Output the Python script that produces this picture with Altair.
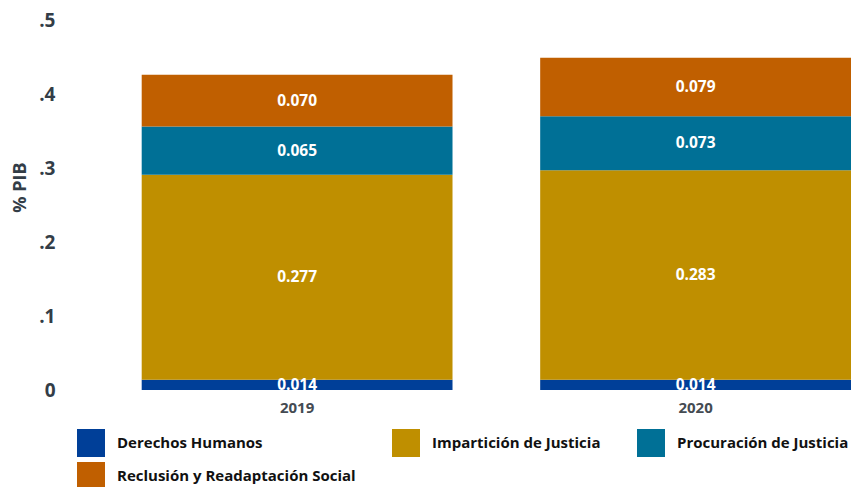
import altair as alt
import pandas as pd

years = ["2019", "2020"]
categories = ["Derechos Humanos", "Impartición de Justicia", "Procuración de Justicia", "Reclusión y Readaptación Social"]
values_2019 = [0.014, 0.277, 0.065, 0.070]
values_2020 = [0.014, 0.283, 0.073, 0.079]
colors = ["#003f98", "#bf8f00", "#007096", "#c05f00"]

rows = []
for y, vals in zip(years, [values_2019, values_2020]):
    for i, (c, v) in enumerate(zip(categories, vals)):
        rows.append({"year": y, "cat": c, "val": v, "order": i})
df = pd.DataFrame(rows)

base = alt.Chart(df).transform_stack(
    stack="val", groupby=["year"], as_=["y0", "y1"], sort=[alt.SortField("order", "ascending")]
).transform_calculate(mid="(datum.y0 + datum.y1) / 2")

xenc = alt.X("year:N", title=None,
             scale=alt.Scale(paddingInner=0.22, paddingOuter=0.1, align=1),
             axis=alt.Axis(labelAngle=0, ticks=False, domain=False, labelPadding=10,
                           labelFont="Open Sans", labelFontWeight="bold", labelFontSize=15,
                           labelColor="#444b52"))

bars = base.mark_bar().encode(
    x=xenc,
    y=alt.Y("y0:Q", title="% PIB", scale=alt.Scale(domain=[0, 0.5]),
            axis=alt.Axis(values=[0, 0.1, 0.2, 0.3, 0.4, 0.5], grid=False, ticks=False, domain=False,
                          labelExpr="datum.value == 0 ? '0' : replace(format(datum.value, '.1f'), '0.', '.')",
                          labelFont="Open Sans", labelFontWeight="bold", labelFontSize=19,
                          labelColor="#333d47", labelPadding=7,
                          titleFont="Open Sans", titleFontWeight="bold", titleFontSize=18,
                          titleColor="#333d47", titlePadding=9, titleY=167)),
    y2="y1:Q",
    color=alt.Color("cat:N", scale=alt.Scale(domain=categories, range=colors),
                    legend=alt.Legend(title=None, orient="none", legendX=15, legendY=409,
                                      direction="horizontal", columns=3, symbolType="square",
                                      symbolSize=784, symbolStrokeWidth=0, symbolOpacity=1,
                                      labelFont="Open Sans", labelFontWeight="bold", labelFontSize=15,
                                      labelColor="#111111", columnPadding=36, rowPadding=5,
                                      labelOffset=12, labelLimit=400)),
)

text = base.mark_text(color="white", font="Open Sans", fontWeight="bold", fontSize=15.5,
                      baseline="middle").encode(
    x=alt.X("year:N"),
    y=alt.Y("mid:Q"),
    text=alt.Text("val:Q", format=".3f"),
)

chart = alt.layer(bars, text).properties(
    width=789, height=370,
    autosize=alt.AutoSizeParams(type="none"),
    padding={"left": 54, "top": 12, "right": 8, "bottom": 97},
).configure_view(stroke=None)

chart.save("out.html", embed_options={"renderer": "svg", "actions": False})
